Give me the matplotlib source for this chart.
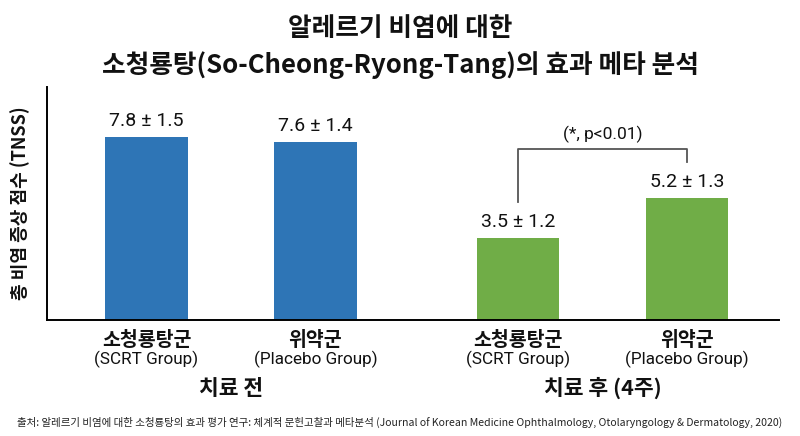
import matplotlib
matplotlib.use("Agg")
import matplotlib.pyplot as plt
import matplotlib.transforms as mtransforms

# data
groups_ko = ["소청룡탕군", "위약군", "소청룡탕군", "위약군"]
groups_en = ["(SCRT Group)", "(Placebo Group)", "(SCRT Group)", "(Placebo Group)"]
means = [7.8, 7.6, 3.5, 5.2]
sds = [1.5, 1.4, 1.2, 1.3]
phases = ["치료 전", "치료 후 (4주)"]
p_text = "(*, p<0.01)"

xpos = [0, 1, 2.2, 3.2]
colors = ["#2E75B6", "#2E75B6", "#70AD47", "#70AD47"]

KR = "Noto Sans CJK KR"
NUM = ["Roboto", "Noto Sans CJK KR", "DejaVu Sans"]

fig = plt.figure(figsize=(8, 4.36), dpi=100)
ax = fig.add_axes([0.05875, 0.266, 0.915, 0.5344])

ax.bar(xpos, means, width=0.49, color=colors)
ax.set_xlim(-0.589, 3.745)
ax.set_ylim(0, 9.94)

for s in ["top", "right"]:
    ax.spines[s].set_visible(False)
for s in ["left", "bottom"]:
    ax.spines[s].set_linewidth(1.4)
ax.set_xticks([])
ax.set_yticks([])

# value labels
for x, m, sd in zip(xpos, means, sds):
    ax.text(x, m + 0.69, f"{m} ± {sd}", ha="center", va="center",
            fontsize=14, family=NUM, color="#111111")

# significance bracket between post-treatment bars
top = max(means[2], means[3]) + 2.08
ax.plot([xpos[2], xpos[2], xpos[3], xpos[3]],
        [means[2] + 1.55, top, top, means[3] + 1.55],
        color="#555555", lw=1.3)
ax.text((xpos[2] + xpos[3]) / 2, top + 0.65, p_text, ha="center", va="center",
        fontsize=12.5, family=NUM, color="#111111")

# category labels under axis
trans = mtransforms.blended_transform_factory(ax.transData, fig.transFigure)
for x, ko, en in zip(xpos, groups_ko, groups_en):
    fig.text(x, 1 - 340 / 436, ko, transform=trans, ha="center", va="center",
             fontsize=14, family=KR, weight="bold", color="#111111")
    fig.text(x, 1 - 359 / 436, en, transform=trans, ha="center", va="center",
             fontsize=12.3, family=NUM, color="#111111")
for i, ph in enumerate(phases):
    cx = (xpos[2 * i] + xpos[2 * i + 1]) / 2
    fig.text(cx, 1 - 388 / 436, ph, transform=trans, ha="center", va="center",
             fontsize=15.5, family=KR, weight="bold", color="#111111")

ax.set_ylabel("총 비염 증상 점수 (TNSS)", fontsize=13, family=KR,
              weight="bold", labelpad=12, color="#111111")

fig.text(0.5, 1 - 28 / 436, "알레르기 비염에 대한", ha="center", va="center",
         fontsize=18.5, family=KR, weight="bold", color="#111111")
fig.text(0.5, 1 - 65 / 436, "소청룡탕(So-Cheong-Ryong-Tang)의 효과 메타 분석",
         ha="center", va="center", fontsize=18.5, family=KR, weight="bold",
         color="#111111")

fig.text(0.5, 1 - 422 / 436,
         "출처: 알레르기 비염에 대한 소청룡탕의 효과 평가 연구: 체계적 문헌고찰과 메타분석 "
         "(Journal of Korean Medicine Ophthalmology, Otolaryngology & Dermatology, 2020)",
         ha="center", va="center", fontsize=7.55, family=KR, color="#222222")

fig.savefig("out.png", dpi=100)
